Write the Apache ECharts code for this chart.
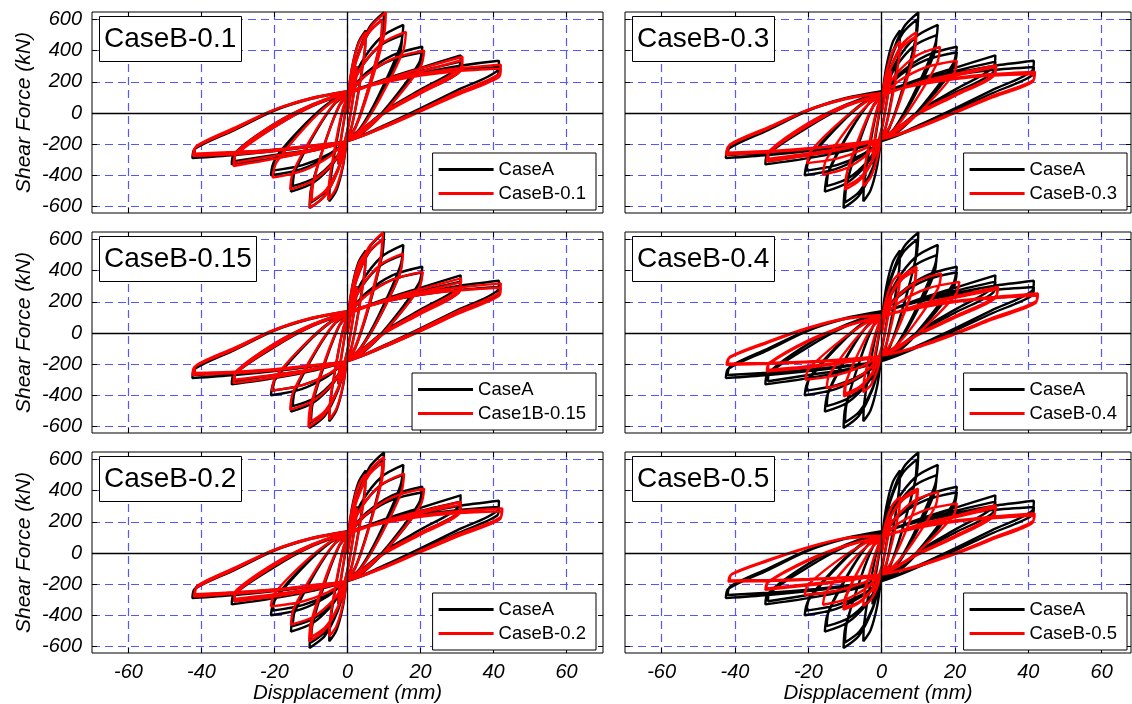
<!DOCTYPE html>
<html>
<head>
<meta charset="utf-8">
<script src="https://cdn.jsdelivr.net/npm/echarts@6/dist/echarts.min.js"></script>
<style>
  html, body { margin: 0; padding: 0; background: #fff; }
  #chart { width: 1132px; height: 704px; }
</style>
</head>
<body>
<div id="chart"></div>
<script>
// tick values
const xTicks = [-60, -40, -20, 0, 20, 40, 60]
const yTicks = [-600, -400, -200, 0, 200, 400, 600]

// panel texts, in reading order (row by row)
const panelTitles = ['CaseB-0.1', 'CaseB-0.3', 'CaseB-0.15', 'CaseB-0.4', 'CaseB-0.2', 'CaseB-0.5']
const legendNames = ['CaseB-0.1', 'CaseB-0.3', 'Case1B-0.15', 'CaseB-0.4', 'CaseB-0.2', 'CaseB-0.5']

// hysteresis loops [displacement mm, shear kN]
const caseA = [
  [0,0],[1.5,200],[2.5,300],[2.3,220],[0,-110],[-2.5,-330],[-2.3,-250],[0,90],
  [1.25,294],[3,453],[5,530],[4.75,406],[2.75,102],[1.1,-91],[0,-160],[-1.25,-343],[-3,-494],[-5,-567],[-4.75,-447],[-2.75,-153],[-1.1,33],[0,100],
  [2.5,354],[6,550],[10,645],[9.5,498],[5.5,140],[2.2,-89],[0,-170],[-2.6,-368],[-6.2,-531],[-10.4,-610],[-9.9,-479],[-5.7,-160],[-2.3,43],[0,115],
  [2.4,336],[5.8,514],[9.6,600],[9.1,460],[5.3,120],[2.1,-98],[0,-175],[-2.5,-355],[-6,-503],[-10,-575],[-9.5,-450],[-5.5,-144],[-2.2,51],[0,120],
  [3.8,323],[9.2,486],[15.3,565],[14.5,432],[8.4,106],[3.4,-101],[0,-175],[-3.9,-324],[-9.3,-446],[-15.5,-505],[-14.7,-392],[-8.5,-114],[-3.4,62],[0,125],
  [3.8,294],[9,433],[15,500],[14.3,378],[8.3,80],[3.3,-110],[0,-178],[-3.8,-309],[-9,-417],[-15,-470],[-14.3,-363],[-8.3,-101],[-3.3,66],[0,125],
  [5.1,257],[12.3,370],[20.5,425],[19.5,317],[11.3,53],[4.5,-115],[0,-175],[-5.3,-276],[-12.6,-360],[-21,-400],[-20,-306],[-11.6,-78],[-4.6,68],[0,120],
  [5.1,244],[12.3,342],[20.5,390],[19.5,288],[11.3,38],[4.5,-121],[0,-178],[-5.1,-264],[-12.3,-335],[-20.5,-370],[-19.5,-281],[-11.3,-63],[-4.5,76],[0,125],
  [10,215],[20,290],[31,370],[30.6,300],[20,150],[10,10],[0,-175],[-10,-245],[-20,-290],[-31.7,-330],[-31.2,-270],[-20,-90],[-10,40],[0,130],
  [10,205],[20,270],[31,330],[30.6,265],[20,130],[10,0],[0,-180],[-10,-235],[-20,-270],[-31,-310],[-30.5,-250],[-20,-70],[-10,50],[0,135],
  [10,205],[20,255],[30,300],[41.5,335],[41,270],[30,145],[20,30],[10,-80],[0,-180],[-10,-215],[-20,-245],[-31,-270],[-42.5,-290],[-41.8,-230],[-31,-110],[-20,15],[-10,90],[0,140],
  [10,200],[20,245],[30,275],[41.5,295],[41,240],[30,125],[20,15],[10,-90],[0,-180],[-10,-210],[-20,-235],[-31,-255],[-42,-270],[-41.3,-215],[-31,-100],[-20,20],[-10,95],[0,140]
]

const caseB01 = [
  [0,0],[1.5,195],[2.5,295],[2.3,215],[0,-110],[-2.5,-325],[-2.3,-245],[0,90],
  [1.25,289],[3,444],[5,520],[4.75,398],[2.75,98],[1.1,-92],[0,-160],[-1.3,-339],[-3.2,-486],[-5.3,-558],[-5,-440],[-2.9,-150],[-1.2,34],[0,100],
  [2.6,354],[6.3,550],[10.5,646],[10,499],[5.8,140],[2.3,-88],[0,-170],[-2.6,-368],[-6.2,-531],[-10.3,-610],[-9.8,-480],[-5.7,-160],[-2.3,43],[0,115],
  [2.4,335],[5.7,511],[9.5,597],[9,458],[5.2,118],[2.1,-98],[0,-175],[-2.5,-351],[-5.9,-495],[-9.8,-565],[-9.3,-442],[-5.4,-140],[-2.2,52],[0,120],
  [4,303],[9.6,449],[16,520],[15.2,395],[8.8,89],[3.5,-106],[0,-175],[-3.9,-317],[-9.4,-433],[-15.7,-490],[-14.9,-379],[-8.6,-109],[-3.5,64],[0,125],
  [5.3,246],[12.6,350],[21,400],[20,297],[11.6,44],[4.6,-118],[0,-175],[-5.1,-283],[-12.3,-372],[-20.5,-415],[-19.5,-319],[-11.3,-83],[-4.5,67],[0,120],
  [10,210],[20,285],[31.5,361],[31,290],[20,140],[10,5],[0,-175],[-10,-245],[-20,-295],[-31.2,-340],[-30.7,-275],[-20,-90],[-10,40],[0,130],
  [10,200],[20,265],[31.5,340],[31,270],[20,125],[10,-5],[0,-180],[-10,-235],[-20,-275],[-31,-320],[-30.5,-255],[-20,-70],[-10,50],[0,135],
  [10,200],[20,250],[30,285],[42,310],[41.5,250],[30,130],[20,20],[10,-85],[0,-180],[-10,-215],[-20,-245],[-31,-265],[-42.3,-275],[-41.6,-220],[-31,-105],[-20,20],[-10,90],[0,140],
  [10,195],[20,240],[30,268],[42,285],[41.5,230],[30,115],[20,10],[10,-92],[0,-180],[-10,-210],[-20,-235],[-31,-250],[-42,-262],[-41.3,-210],[-31,-95],[-20,22],[-10,95],[0,140]
]

const caseB015 = [
  [0,0],[1.5,195],[2.5,295],[2.3,215],[0,-110],[-2.5,-325],[-2.3,-245],[0,90],
  [1.25,287],[3,440],[5,515],[4.75,394],[2.75,97],[1.1,-93],[0,-160],[-1.25,-338],[-3,-484],[-5,-555],[-4.75,-437],[-2.75,-149],[-1.1,35],[0,100],
  [2.4,353],[5.8,549],[9.7,644],[9.2,497],[5.3,139],[2.1,-89],[0,-170],[-2.7,-365],[-6.4,-525],[-10.7,-603],[-10.2,-474],[-5.9,-158],[-2.4,43],[0,115],
  [2.4,336],[5.7,514],[9.5,600],[9,460],[5.2,120],[2.1,-98],[0,-175],[-2.6,-353],[-6.1,-499],[-10.2,-570],[-9.7,-446],[-5.6,-142],[-2.2,51],[0,120],
  [3.8,298],[9.1,440],[15.2,509],[14.4,386],[8.4,85],[3.3,-107],[0,-175],[-3.9,-318],[-9.4,-435],[-15.7,-492],[-14.9,-381],[-8.6,-109],[-3.5,63],[0,125],
  [5.2,242],[12.4,343],[20.6,392],[19.6,290],[11.3,40],[4.5,-118],[0,-175],[-5.2,-263],[-12.4,-335],[-20.7,-370],[-19.7,-282],[-11.4,-66],[-4.6,71],[0,120],
  [10,210],[20,280],[31.1,350],[30.7,285],[20,140],[10,5],[0,-175],[-10,-240],[-20,-285],[-31.2,-322],[-30.7,-262],[-20,-85],[-10,42],[0,130],
  [10,200],[20,262],[31,325],[30.6,262],[20,122],[10,-5],[0,-180],[-10,-232],[-20,-268],[-31,-300],[-30.5,-245],[-20,-68],[-10,52],[0,135],
  [10,205],[20,255],[30,290],[42,318],[41.5,258],[30,138],[20,25],[10,-82],[0,-180],[-10,-212],[-20,-240],[-31,-258],[-42.5,-268],[-41.8,-215],[-31,-105],[-20,18],[-10,92],[0,140],
  [10,200],[20,245],[30,272],[42,292],[41.5,238],[30,120],[20,12],[10,-90],[0,-180],[-10,-208],[-20,-232],[-31,-248],[-42,-256],[-41.3,-205],[-31,-95],[-20,22],[-10,96],[0,140]
]

const caseB02 = [
  [0,0],[1.5,190],[2.5,290],[2.3,210],[0,-110],[-2.5,-320],[-2.3,-240],[0,90],
  [1.25,282],[3,432],[5,505],[4.75,385],[2.75,93],[1.1,-94],[0,-160],[-1.25,-329],[-3,-468],[-5,-535],[-4.75,-421],[-2.75,-141],[-1.1,37],[0,100],
  [2.5,340],[6,526],[10,616],[9.5,474],[5.5,129],[2.2,-91],[0,-170],[-2.6,-349],[-6.3,-496],[-10.5,-567],[-10,-444],[-5.8,-144],[-2.3,47],[0,115],
  [2.4,326],[5.8,497],[9.6,580],[9.1,445],[5.3,114],[2.1,-97],[0,-172],[-2.5,-338],[-6,-474],[-10,-540],[-9.5,-422],[-5.5,-132],[-2.2,52],[0,118],
  [3.9,296],[9.3,439],[15.5,509],[14.7,386],[8.5,85],[3.4,-107],[0,-175],[-3.9,-303],[-9.3,-409],[-15.5,-460],[-14.7,-355],[-8.5,-99],[-3.4,64],[0,122],
  [5.3,252],[12.6,360],[21,413],[20,307],[11.6,48],[4.6,-116],[0,-175],[-5.3,-251],[-12.6,-313],[-21,-343],[-20,-260],[-11.6,-56],[-4.6,74],[0,120],
  [10,205],[20,268],[31,328],[30.6,262],[20,130],[10,2],[0,-175],[-10,-238],[-20,-280],[-31,-311],[-30.5,-255],[-20,-80],[-10,44],[0,130],
  [10,198],[20,255],[31,310],[30.6,250],[20,118],[10,-6],[0,-178],[-10,-230],[-20,-265],[-31,-295],[-30.5,-240],[-20,-66],[-10,52],[0,134],
  [10,198],[20,240],[30,268],[42.4,286],[42,232],[30,118],[20,15],[10,-88],[0,-178],[-10,-212],[-20,-242],[-31,-262],[-42,-279],[-41.3,-222],[-31,-105],[-20,18],[-10,90],[0,138],
  [10,192],[20,232],[30,255],[42.2,268],[41.8,218],[30,105],[20,5],[10,-95],[0,-178],[-10,-208],[-20,-234],[-31,-252],[-41.8,-265],[-41.1,-210],[-31,-96],[-20,22],[-10,95],[0,138]
]

const caseB03 = [
  [0,0],[1.5,180],[2.5,270],[2.3,195],[0,-100],[-2.5,-300],[-2.3,-225],[0,95],
  [1.25,259],[3,394],[5,460],[4.75,350],[2.75,82],[1.1,-89],[0,-150],[-1.25,-294],[-3,-412],[-5,-470],[-4.75,-368],[-2.75,-120],[-1.1,39],[0,95],
  [2.4,292],[5.7,445],[9.5,520],[9,398],[5.2,98],[2.1,-92],[0,-160],[-2.5,-309],[-6,-432],[-10,-492],[-9.5,-385],[-5.5,-122],[-2.2,45],[0,105],
  [2.3,280],[5.6,421],[9.3,490],[8.8,373],[5.1,86],[2,-97],[0,-162],[-2.5,-301],[-5.9,-415],[-9.8,-470],[-9.3,-366],[-5.4,-112],[-2.2,50],[0,108],
  [4,251],[9.5,367],[15.9,424],[15.1,319],[8.7,61],[3.5,-103],[0,-162],[-4,-267],[-9.6,-354],[-16,-396],[-15.2,-305],[-8.8,-82],[-3.5,59],[0,110],
  [5.1,211],[12.3,295],[20.5,335],[19.5,246],[11.3,27],[4.5,-112],[0,-162],[-5.1,-234],[-12.2,-293],[-20.3,-322],[-19.3,-244],[-11.2,-54],[-4.5,67],[0,110],
  [10,195],[20,250],[31.2,307],[30.8,248],[20,120],[10,0],[0,-162],[-10,-228],[-20,-272],[-31.3,-311],[-30.8,-255],[-20,-80],[-10,40],[0,118],
  [10,188],[20,240],[31,295],[30.6,238],[20,110],[10,-8],[0,-165],[-10,-222],[-20,-260],[-31,-295],[-30.5,-240],[-20,-65],[-10,48],[0,120],
  [10,185],[20,225],[30,250],[41.8,264],[41.4,212],[30,108],[20,8],[10,-90],[0,-168],[-10,-205],[-20,-232],[-31,-252],[-42.4,-268],[-41.7,-212],[-31,-100],[-20,18],[-10,88],[0,128],
  [10,180],[20,218],[30,240],[41.6,250],[41.2,200],[30,98],[20,0],[10,-95],[0,-168],[-10,-200],[-20,-226],[-31,-244],[-42.1,-255],[-41.4,-202],[-31,-92],[-20,22],[-10,92],[0,128]
]

const caseB04 = [
  [0,0],[1.5,165],[2.5,245],[2.3,175],[0,-90],[-2.5,-270],[-2.3,-200],[0,85],
  [1.25,220],[3,331],[5,385],[4.75,291],[2.75,63],[1.1,-83],[0,-135],[-1.25,-245],[-3,-336],[-5,-380],[-4.75,-296],[-2.75,-92],[-1.1,39],[0,85],
  [2.4,243],[5.7,365],[9.5,424],[9,322],[5.2,74],[2.1,-84],[0,-140],[-2.6,-260],[-6.2,-359],[-10.3,-407],[-9.8,-317],[-5.7,-96],[-2.3,45],[0,95],
  [2.3,234],[5.6,346],[9.3,400],[8.8,302],[5.1,64],[2,-88],[0,-142],[-2.5,-254],[-6,-345],[-10,-390],[-9.5,-302],[-5.5,-87],[-2.2,49],[0,98],
  [4.1,227],[9.7,331],[16.2,382],[15.4,288],[8.9,57],[3.6,-90],[0,-142],[-3.8,-237],[-9,-316],[-15,-354],[-14.3,-272],[-8.3,-73],[-3.3,55],[0,100],
  [5.3,203],[12.7,287],[21.2,328],[20.1,243],[11.7,37],[4.7,-95],[0,-142],[-5.2,-213],[-12.5,-272],[-20.8,-300],[-19.8,-228],[-11.4,-52],[-4.6,60],[0,100],
  [10,180],[20,235],[31.7,296],[31.3,240],[20,108],[10,-5],[0,-142],[-10,-190],[-20,-222],[-31.3,-247],[-30.8,-200],[-20,-55],[-10,40],[0,108],
  [10,172],[20,225],[31.5,280],[31.1,226],[20,98],[10,-12],[0,-145],[-10,-185],[-20,-214],[-31,-238],[-30.5,-190],[-20,-48],[-10,45],[0,110],
  [10,165],[20,205],[30,230],[42.6,254],[42.2,205],[30,95],[20,0],[10,-85],[0,-145],[-10,-172],[-20,-188],[-31,-198],[-42.3,-205],[-41.6,-160],[-31,-62],[-20,30],[-10,90],[0,115],
  [10,160],[20,198],[30,222],[42.4,240],[42,192],[30,85],[20,-8],[10,-90],[0,-145],[-10,-168],[-20,-183],[-31,-192],[-42,-198],[-41.3,-152],[-31,-55],[-20,34],[-10,93],[0,115]
]

const caseB05 = [
  [0,0],[1.5,160],[2.5,235],[2.3,170],[0,-85],[-2.5,-250],[-2.3,-185],[0,80],
  [1.25,206],[3,310],[5,360],[4.75,273],[2.75,59],[1.1,-77],[0,-125],[-1.25,-222],[-3,-301],[-5,-340],[-4.75,-264],[-2.75,-80],[-1.1,38],[0,80],
  [2.5,235],[5.9,355],[9.9,413],[9.4,315],[5.4,76],[2.2,-76],[0,-130],[-2.6,-235],[-6.2,-322],[-10.4,-364],[-9.9,-282],[-5.7,-83],[-2.3,45],[0,90],
  [2.4,228],[5.8,340],[9.6,395],[9.1,300],[5.3,68],[2.1,-79],[0,-132],[-2.5,-230],[-6,-311],[-10,-350],[-9.5,-270],[-5.5,-76],[-2.2,48],[0,92],
  [3.9,229],[9.2,339],[15.4,392],[14.6,298],[8.5,67],[3.4,-80],[0,-132],[-4,-222],[-9.6,-296],[-16,-332],[-15.2,-255],[-8.8,-67],[-3.5,52],[0,95],
  [5.1,197],[12.3,278],[20.5,318],[19.5,237],[11.3,39],[4.5,-87],[0,-132],[-5.3,-194],[-12.6,-244],[-21,-269],[-20,-203],[-11.6,-41],[-4.6,61],[0,98],
  [10,182],[20,238],[31.1,307],[30.7,250],[20,110],[10,-2],[0,-135],[-10,-180],[-20,-208],[-31.7,-237],[-31.2,-192],[-20,-50],[-10,42],[0,105],
  [10,175],[20,228],[31,290],[30.6,235],[20,100],[10,-10],[0,-138],[-10,-175],[-20,-200],[-31.4,-228],[-30.9,-184],[-20,-43],[-10,47],[0,108],
  [10,168],[20,208],[30,232],[41.7,254],[41.3,205],[30,95],[20,0],[10,-80],[0,-138],[-10,-160],[-20,-172],[-31,-180],[-41.8,-183],[-41.1,-140],[-31,-50],[-20,35],[-10,92],[0,112],
  [10,162],[20,200],[30,222],[41.5,240],[41.1,192],[30,85],[20,-8],[10,-86],[0,-138],[-10,-156],[-20,-167],[-31,-174],[-41.5,-176],[-40.8,-133],[-31,-45],[-20,38],[-10,95],[0,112]
]

const caseBData = [caseB01, caseB03, caseB015, caseB04, caseB02, caseB05]

// layout (the right column is cut off by the picture edge at about +68 mm)
const font = '"Liberation Sans", Arial, Helvetica, sans-serif'
const gridLeft = [92, 625]
const gridWidth = [511, 506]
const xMax = [70, 68]
const legendRight = [536, 5]
const gridTop = [12, 232, 452]
const gridHeight = 201
const gridColor = '#5656ff'

const grid = []
const xAxis = []
const yAxis = []
const series = []
const title = []
const legend = []

const tick = (values) => ({
  show: true,
  inside: true,
  length: 5,
  customValues: values,
  lineStyle: { color: '#000', width: 1 },
})

const noLine = { show: false, onZero: false }
const splitLine = { show: true, lineStyle: { color: gridColor, type: [8, 5], width: 1.2 } }

caseBData.forEach((red, i) => {
  const row = Math.floor(i / 2)
  const col = i % 2
  const bottomRow = row === 2
  const leftCol = col === 0

  grid.push({
    left: gridLeft[col],
    top: gridTop[row],
    width: gridWidth[col],
    height: gridHeight,
    show: true,
    borderColor: '#000',
    borderWidth: 1,
    backgroundColor: '#fff',
  })

  xAxis.push({
    gridIndex: i,
    type: 'value',
    min: -70,
    max: xMax[col],
    position: 'bottom',
    axisLine: noLine,
    axisTick: tick(xTicks),
    axisLabel: {
      show: bottomRow,
      customValues: xTicks,
      margin: 9,
      color: '#000',
      fontSize: 20,
      fontStyle: 'italic',
      fontFamily: font,
    },
    splitLine,
    name: bottomRow ? 'Dispplacement (mm)' : '',
    nameLocation: 'middle',
    nameGap: 27,
    nameTextStyle: { color: '#000', fontSize: 20.5, fontStyle: 'italic', fontFamily: font },
  })
  xAxis.push({
    gridIndex: i,
    type: 'value',
    min: -70,
    max: xMax[col],
    position: 'top',
    axisLine: noLine,
    axisTick: tick(xTicks),
    axisLabel: { show: false },
    splitLine: { show: false },
  })

  yAxis.push({
    gridIndex: i,
    type: 'value',
    min: -642,
    max: 648,
    position: 'left',
    axisLine: noLine,
    axisTick: tick(yTicks),
    axisLabel: {
      show: leftCol,
      customValues: yTicks,
      margin: 10,
      color: '#000',
      fontSize: 20,
      fontStyle: 'italic',
      fontFamily: font,
    },
    splitLine,
    name: leftCol ? 'Shear Force (kN)' : '',
    nameLocation: 'middle',
    nameRotate: 90,
    nameGap: 57,
    nameTextStyle: { color: '#000', fontSize: 21, fontStyle: 'italic', fontFamily: font },
  })
  yAxis.push({
    gridIndex: i,
    type: 'value',
    min: -642,
    max: 648,
    position: 'right',
    axisLine: noLine,
    axisTick: tick(yTicks),
    axisLabel: { show: false },
    splitLine: { show: false },
  })

  series.push({
    name: 'CaseA',
    type: 'line',
    xAxisIndex: 2 * i,
    yAxisIndex: 2 * i,
    data: caseA,
    smooth: 0.3,
    showSymbol: false,
    symbol: 'none',
    animation: false,
    lineStyle: { color: '#000', width: 2.4 },
    itemStyle: { color: '#000' },
    markLine: {
      silent: true,
      symbol: ['none', 'none'],
      animation: false,
      label: { show: false },
      lineStyle: { color: '#000', type: 'solid', width: 1.3 },
      data: [{ xAxis: 0 }, { yAxis: 0 }],
    },
    z: 2,
  })
  series.push({
    name: legendNames[i],
    type: 'line',
    xAxisIndex: 2 * i,
    yAxisIndex: 2 * i,
    data: red,
    smooth: 0.3,
    showSymbol: false,
    symbol: 'none',
    animation: false,
    lineStyle: { color: '#ff0000', width: 2.4 },
    itemStyle: { color: '#ff0000' },
    z: 3,
  })

  title.push({
    text: panelTitles[i],
    left: gridLeft[col] + 7,
    top: gridTop[row] + 4,
    padding: [6, 5],
    borderColor: '#000',
    borderWidth: 1,
    backgroundColor: '#fff',
    textStyle: { color: '#000', fontSize: 28, fontWeight: 'normal', fontFamily: font, lineHeight: 34 },
  })

  legend.push({
    data: ['CaseA', legendNames[i]],
    orient: 'vertical',
    right: legendRight[col],
    top: gridTop[row] + 141,
    padding: [6, 10, 6, 6],
    itemGap: 3,
    itemWidth: 55,
    itemHeight: 3,
    icon: 'rect',
    borderColor: '#000',
    borderWidth: 1,
    backgroundColor: '#fff',
    borderRadius: 0,
    selectedMode: false,
    textStyle: { color: '#000', fontSize: 18.5, fontFamily: font, lineHeight: 21 },
  })
})

const chart = echarts.init(document.getElementById('chart'))
chart.setOption({
  backgroundColor: '#fff',
  animation: false,
  title,
  legend,
  grid,
  xAxis,
  yAxis,
  series,
})
</script>
</body>
</html>
